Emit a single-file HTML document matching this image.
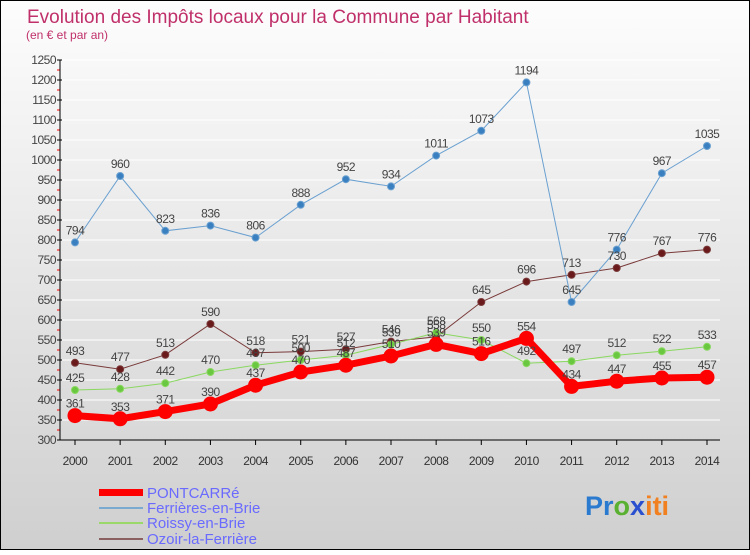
<!DOCTYPE html>
<html><head><meta charset="utf-8"><style>
body{margin:0}
svg text{font-family:"Liberation Sans",sans-serif}
</style></head><body>
<svg id="c" width="750" height="550" xmlns="http://www.w3.org/2000/svg">
<defs><linearGradient id="bg" x1="0" y1="0" x2="0" y2="1"><stop offset="0" stop-color="#fdfdfd"/><stop offset="1" stop-color="#cfcfcf"/></linearGradient></defs>
<rect x="0.5" y="0.5" width="749" height="549" fill="url(#bg)" stroke="#000"/>
<text x="27" y="23" font-size="19" fill="#c0306a">Evolution des Impôts locaux pour la Commune par Habitant</text>
<text x="26" y="39" font-size="12" fill="#c0306a">(en € et par an)</text>
<g id="grid"></g><g id="axes"></g><g id="series"></g><g id="labels"></g>
<g>
<rect x="99" y="489" width="44" height="7" fill="#f00"/>
<text x="147" y="498" font-size="15" fill="#6a6aff">PONTCARRé</text>
<rect x="99" y="507" width="44" height="2" fill="#7aaad0"/>
<text x="147" y="513" font-size="15" fill="#6a6aff">Ferrières-en-Brie</text>
<rect x="99" y="522" width="44" height="2" fill="#9ad86a"/>
<text x="147" y="528" font-size="15" fill="#6a6aff">Roissy-en-Brie</text>
<rect x="99" y="538" width="44" height="2" fill="#8a6060"/>
<text x="147" y="544" font-size="15" fill="#6a6aff">Ozoir-la-Ferrière</text>
</g>
<text x="585" y="515" font-size="27" font-weight="bold"><tspan fill="#2a7ad0">Pr</tspan><tspan fill="#5ab030">o</tspan><tspan fill="#2a50d0">x</tspan><tspan fill="#f08020">iti</tspan></text>
</svg>
<script>
const years=[2000,2001,2002,2003,2004,2005,2006,2007,2008,2009,2010,2011,2012,2013,2014];
const pontcarre=[361,353,371,390,437,470,487,510,539,516,554,434,447,455,457];
const ferrieres=[794,960,823,836,806,888,952,934,1011,1073,1194,645,776,967,1035];
const roissy=[425,428,442,470,487,500,512,539,568,550,492,497,512,522,533];
const ozoir=[493,477,513,590,518,521,527,546,558,645,696,713,730,767,776];
const yTicks=[300,350,400,450,500,550,600,650,700,750,800,850,900,950,1000,1050,1100,1150,1200,1250];
const NS="http://www.w3.org/2000/svg";
const X=i=>75+i*(707-75)/(years.length-1);
const Y=v=>440-(v-300)*(380/950);
function mk(t,a,p){const e=document.createElementNS(NS,t);for(const k in a)e.setAttribute(k,a[k]);document.getElementById(p).appendChild(e);return e;}
const ax=document.getElementById('axes');
yTicks.forEach(v=>{
 let g=mk('line',{x1:60,x2:720,y1:Y(v),y2:Y(v),stroke:'#ffffff','stroke-width':1},'grid');
 
 
 mk('line',{x1:57,x2:62,y1:Y(v),y2:Y(v),stroke:'#000'},'axes');
 if(v<1250)mk('line',{x1:57,x2:60,y1:Y(v+25),y2:Y(v+25),stroke:'#f00'},'axes');
 let t=mk('text',{x:56,y:Y(v)+4,'font-size':12,'text-anchor':'end',fill:'#444','letter-spacing':'-0.5'},'axes');t.textContent=v;
 
 
});
mk('line',{x1:60,x2:60,y1:Y(1250),y2:Y(300),stroke:'#000'},'axes');
mk('line',{x1:60,x2:720,y1:Y(300),y2:Y(300),stroke:'#000'},'axes');
years.forEach((y,i)=>{
 mk('line',{x1:X(i),x2:X(i),y1:440,y2:445,stroke:'#000'},'axes');
 let t=mk('text',{x:X(i),y:465,'font-size':12,'text-anchor':'middle',fill:'#333','letter-spacing':'-0.5'},'axes');t.textContent=y;
 
 
});
function series(d,name,col,w,r,dot,lblBelow){
 const pts=d.map((v,i)=>X(i)+','+Y(v)).join(' ');
 const l=mk('polyline',{points:pts,fill:'none',stroke:col,'stroke-width':w},'series');
 
 
 d.forEach((v,i)=>{
  const c=mk('circle',{cx:X(i),cy:Y(v),r:r,fill:dot,stroke:col,'stroke-width':1},'series');
  
  
  const t=mk('text',{x:X(i),y:Y(v)+(lblBelow?-8:-8),'font-size':12,'text-anchor':'middle',fill:'#444','letter-spacing':'-0.5'},'labels');
  t.textContent=v;
  
  
 });
}
series(ozoir,'ozoir','#7a3a3a',1,3.5,'#6a1a1a');
series(roissy,'roissy','#8ad860',1,3.5,'#6ac840');
series(ferrieres,'ferrieres','#6aa0d0',1,3.5,'#3a80c0');
series(pontcarre,'pontcarre','#f00',7,7,'#f00');
</script>
</body></html>
